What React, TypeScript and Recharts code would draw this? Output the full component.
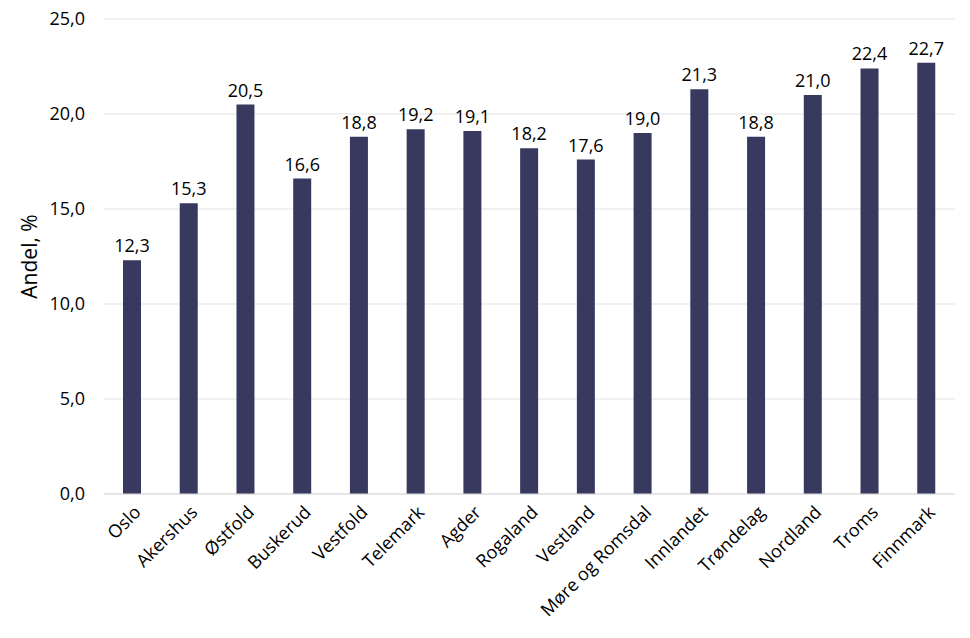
import React from 'react';
import { BarChart, Bar, XAxis, YAxis, CartesianGrid, LabelList } from 'recharts';

const fylker = [
  'Oslo', 'Akershus', 'Østfold', 'Buskerud', 'Vestfold', 'Telemark', 'Agder', 'Rogaland',
  'Vestland', 'Møre og Romsdal', 'Innlandet', 'Trøndelag', 'Nordland', 'Troms', 'Finnmark',
];
const andel = [12.3, 15.3, 20.5, 16.6, 18.8, 19.2, 19.1, 18.2, 17.6, 19.0, 21.3, 18.8, 21.0, 22.4, 22.7];
const yTicks = [0, 5, 10, 15, 20, 25];

const data = fylker.map((navn, i) => ({ navn, andel: andel[i] }));

const FONT = '"Open Sans", Lato, sans-serif';
const fmt = (v: number) => v.toFixed(1).replace('.', ',');

// skrå kategorietiketter, høyrejustert mot søylens midtpunkt
const XTick = (props: any) => {
  const { x, y, payload } = props;
  return (
    <g transform={`translate(${x + 5},${y + 7})`}>
      <text
        textAnchor="end"
        transform="rotate(-45)"
        dy="0.35em"
        fontSize={18}
        fontFamily={FONT}
        fill="#000"
      >
        {payload.value}
      </text>
    </g>
  );
};

export default function App() {
  return (
    <div style={{ position: 'absolute', left: 0, top: 0, width: 970, height: 638, background: '#fff' }}>
      <BarChart
        width={970}
        height={638}
        data={data}
        margin={{ top: 19, right: 15, left: 20, bottom: 0 }}
      >
        <CartesianGrid vertical={false} stroke="#e3e3e3" />
        <XAxis
          dataKey="navn"
          interval={0}
          height={144}
          tickLine={false}
          axisLine={{ stroke: '#d9d9d9' }}
          tick={<XTick />}
        />
        <YAxis
          width={84}
          domain={[0, 25]}
          ticks={yTicks}
          tickFormatter={fmt}
          axisLine={false}
          tickLine={false}
          tickSize={0}
          tickMargin={19}
          tick={{ fontSize: 18, fontFamily: FONT, fill: '#000' }}
          label={{
            value: 'Andel, %',
            angle: -90,
            position: 'insideLeft',
            offset: 10,
            style: { fontSize: 21, fontFamily: FONT, fill: '#000', textAnchor: 'middle' },
          }}
        />
        <Bar dataKey="andel" fill="#373a5e" barSize={18} isAnimationActive={false}>
          <LabelList
            dataKey="andel"
            position="top"
            offset={8}
            formatter={(v: any) => fmt(Number(v))}
            style={{ fontSize: 18, fontFamily: FONT, fill: '#000' }}
          />
        </Bar>
      </BarChart>
    </div>
  );
}
